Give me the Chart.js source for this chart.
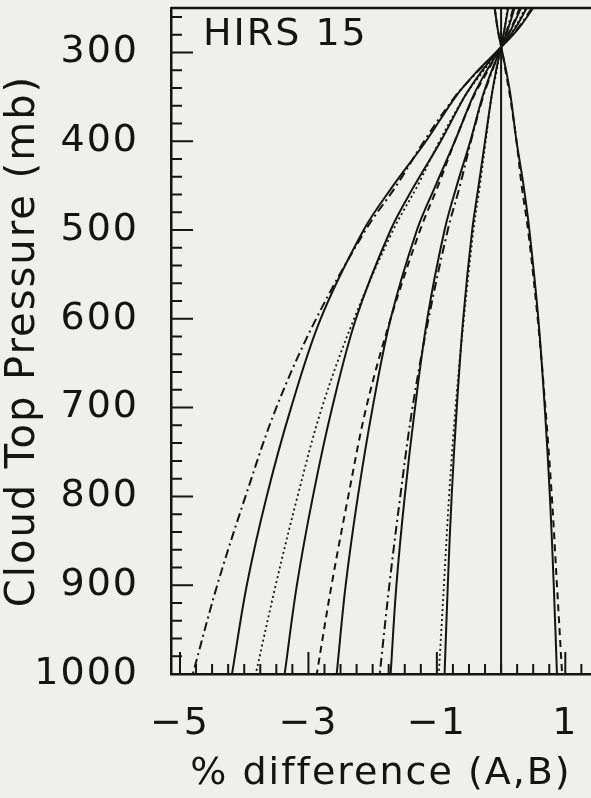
<!DOCTYPE html>
<html>
<head>
<meta charset="utf-8">
<script src="https://cdn.jsdelivr.net/npm/chart.js@4.4.1/dist/chart.umd.min.js"></script>
<style>
  html, body { margin: 0; padding: 0; background: #efefed; }
  #wrap { width: 591px; height: 798px; }
</style>
</head>
<body>
<div id="wrap"><canvas id="myChart" width="591" height="798"></canvas></div>
<script>
// Field
const panelTitle = 'HIRS 15';
const pressures = [250, 275, 300, 325, 350, 400, 450, 500, 600, 700, 800, 900, 1000]; // mb

// solid curves (A)
const solid1 = [0.50, 0.25, -0.08, -0.42, -0.71, -1.17, -1.68, -2.14, -2.81, -3.27, -3.65, -3.96, -4.19];
const solid2 = [0.40, 0.20, -0.07, -0.34, -0.57, -0.94, -1.35, -1.72, -2.26, -2.63, -2.93, -3.18, -3.37];
const solid3 = [0.31, 0.15, -0.05, -0.26, -0.44, -0.72, -1.02, -1.31, -1.72, -2.00, -2.23, -2.42, -2.56];
const solid4 = [0.21, 0.10, -0.03, -0.17, -0.29, -0.48, -0.69, -0.88, -1.15, -1.34, -1.50, -1.63, -1.72];
const solid5 = [0.11, 0.05, -0.02, -0.09, -0.15, -0.25, -0.35, -0.45, -0.59, -0.69, -0.77, -0.83, -0.88];
const solid6 = [0.00, 0.00, 0.00, 0.00, 0.00, 0.00, 0.00, 0.00, 0.00, 0.00, 0.00, 0.00, 0.00];
const solid7 = [-0.10, -0.05, 0.02, 0.09, 0.15, 0.24, 0.35, 0.44, 0.58, 0.68, 0.76, 0.82, 0.87];

// broken curves (B)
const dashDot1 = [0.48, 0.24, -0.08, -0.41, -0.72, -1.20, -1.63, -2.11, -2.88, -3.50, -3.98, -4.42, -4.80];
const dotted1  = [0.38, 0.19, -0.06, -0.32, -0.57, -0.96, -1.30, -1.68, -2.29, -2.79, -3.17, -3.51, -3.82];
const dashed1  = [0.29, 0.14, -0.05, -0.24, -0.43, -0.72, -0.98, -1.26, -1.72, -2.10, -2.38, -2.64, -2.87];
const dashDot2 = [0.19, 0.09, -0.03, -0.16, -0.28, -0.47, -0.64, -0.83, -1.13, -1.38, -1.57, -1.74, -1.89];
const dotted2  = [0.10, 0.05, -0.02, -0.08, -0.15, -0.24, -0.33, -0.43, -0.58, -0.71, -0.81, -0.89, -0.97];
const dashed2  = [-0.10, -0.05, 0.02, 0.08, 0.14, 0.24, 0.32, 0.42, 0.57, 0.69, 0.79, 0.87, 0.95];

// ticks
const xLabelTicks = [-5, -3, -1, 1];
const yLabelTicks = [300, 400, 500, 600, 700, 800, 900, 1000];

const ink = '#141414';
const FONT = "'DejaVu Sans'";

function pts(xs) {
    return pressures.map((p, i) => ({ x: xs[i], y: p }));
}

const styles = {
    solid:   { dash: [], width: 2 },
    dashDot: { dash: [9, 4, 2, 4], width: 2 },
    dotted:  { dash: [2, 3], width: 1.8 },
    dashed:  { dash: [7, 5], width: 2 }
};

const series = [
    ['solid', solid1], ['solid', solid2], ['solid', solid3], ['solid', solid4],
    ['solid', solid5], ['solid', solid6], ['solid', solid7],
    ['dashDot', dashDot1], ['dotted', dotted1], ['dashed', dashed1],
    ['dashDot', dashDot2], ['dotted', dotted2], ['dashed', dashed2]
];

// wider letters, like the plotter font of the original
const spacing = {
    id: 'spacing',
    beforeUpdate(chart) { chart.ctx.letterSpacing = '2px'; },
    beforeDraw(chart) { chart.ctx.letterSpacing = '2px'; }
};

// tick marks inside the frame, top border and panel title
const frameTicks = {
    id: 'frameTicks',
    afterDatasetsDraw(chart) {
        const { ctx, chartArea: a, scales } = chart;
        const x = scales.x, y = scales.y;
        ctx.save();
        ctx.strokeStyle = ink;
        ctx.lineWidth = 2;
        ctx.beginPath();
        y.ticks.forEach(t => {
            const py = y.getPixelForValue(t.value);
            const len = t.value % 100 === 0 ? 22 : 11;
            ctx.moveTo(a.left, py);
            ctx.lineTo(a.left + len, py);
        });
        x.ticks.forEach(t => {
            const px = x.getPixelForValue(t.value);
            const len = xLabelTicks.includes(t.value) ? 22 : 10;
            ctx.moveTo(px, a.bottom);
            ctx.lineTo(px, a.bottom - len);
        });
        ctx.stroke();
        ctx.lineWidth = 2.5;
        ctx.beginPath();
        ctx.moveTo(a.left, a.top);
        ctx.lineTo(a.right, a.top);
        ctx.stroke();
        ctx.fillStyle = ink;
        ctx.font = '38px ' + FONT;
        ctx.textBaseline = 'alphabetic';
        ctx.fillText(panelTitle, a.left + 32, a.top + 37);
        ctx.restore();
    }
};

const ctx = document.getElementById('myChart');
const config = {
    type: 'line',
    data: {
        datasets: series.map(([st, xs]) => ({
            data: pts(xs),
            borderColor: ink,
            borderWidth: styles[st].width,
            borderDash: styles[st].dash,
            pointRadius: 0,
            tension: 0.35,
            fill: false
        }))
    },
    options: {
        responsive: false,
        animation: false,
        layout: { padding: { top: 8, right: 0, left: 0, bottom: 0 } },
        plugins: { legend: { display: false }, tooltip: { enabled: false } },
        scales: {
            x: {
                type: 'linear',
                min: -5.14,
                max: 1.4,
                grid: { display: false, drawTicks: false },
                border: { display: true, color: ink, width: 2.5 },
                afterBuildTicks: scale => {
                    const t = [];
                    for (let v = -5; v <= 1.26; v += 0.25) t.push({ value: Math.round(v * 100) / 100 });
                    scale.ticks = t;
                },
                afterFit: scale => { scale.height = 124; scale.paddingLeft = 0; scale.paddingRight = 0; },
                ticks: {
                    autoSkip: false,
                    maxRotation: 0,
                    padding: 27,
                    color: ink,
                    font: { family: FONT, size: 38 },
                    callback: v => xLabelTicks.includes(v) ? String(v).replace('-', '\u2212') : ''
                },
                title: {
                    display: true,
                    text: '% difference (A,B)',
                    color: ink,
                    font: { family: FONT, size: 38 },
                    padding: { top: 0, bottom: 1 }
                }
            },
            y: {
                type: 'linear',
                reverse: true,
                min: 250,
                max: 1000,
                grid: { display: false, drawTicks: false },
                border: { display: true, color: ink, width: 2.5 },
                afterBuildTicks: scale => {
                    const t = [];
                    for (let v = 260; v <= 1000; v += 20) t.push({ value: v });
                    scale.ticks = t;
                },
                afterFit: scale => { scale.width = 171; scale.paddingTop = 0; scale.paddingBottom = 0; },
                ticks: {
                    autoSkip: false,
                    padding: 32,
                    color: ink,
                    font: { family: FONT, size: 38 },
                    callback: v => yLabelTicks.includes(v) ? String(v) : ''
                },
                title: {
                    display: true,
                    text: 'Cloud Top Pressure (mb)',
                    color: ink,
                    font: { family: FONT, size: 40 },
                    padding: { top: 0, bottom: 0 }
                }
            }
        }
    },
    plugins: [spacing, frameTicks]
};

const myChart = new Chart(ctx, config);
</script>
</body>
</html>
